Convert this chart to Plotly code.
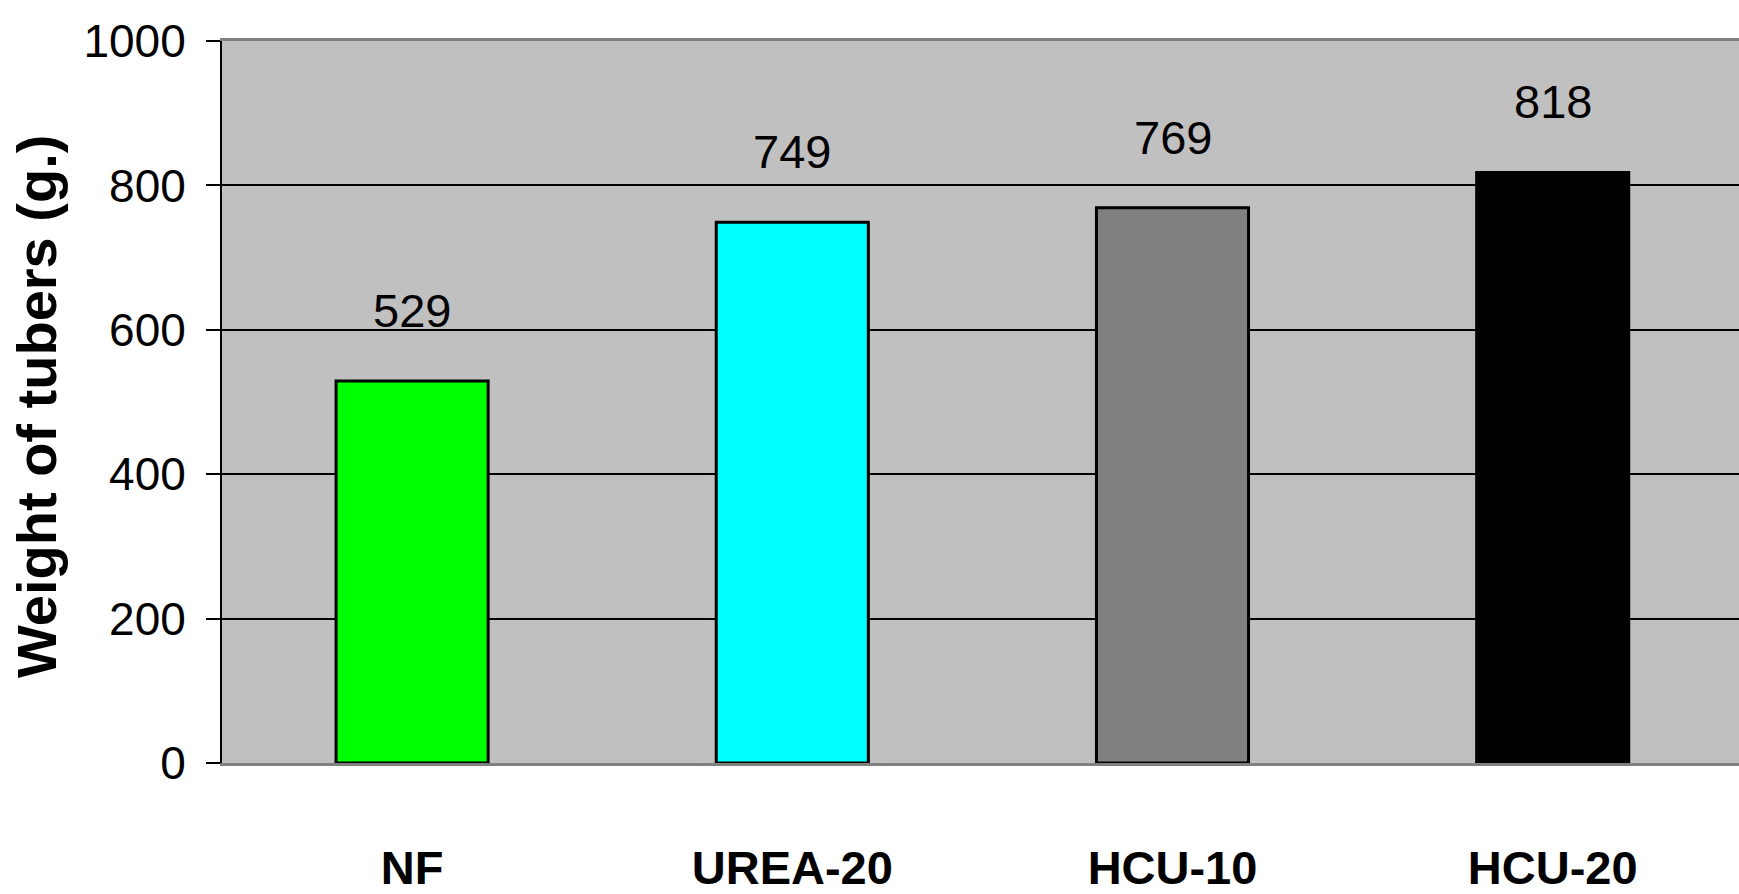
import plotly.graph_objects as go

# Tuber weight per fertiliser treatment
treatments = ["NF", "UREA-20", "HCU-10", "HCU-20"]
tuber_weight = [529, 749, 769, 818]
bar_colors = ["#00FF00", "#00FFFF", "#808080", "#000000"]
y_ticks = [0, 200, 400, 600, 800, 1000]

NARROW = "Liberation Sans Narrow, Arial Narrow, Liberation Sans, Arial, sans-serif"

fig = go.Figure()
fig.add_trace(go.Bar(
    x=list(range(len(treatments))),
    y=tuber_weight,
    width=0.4,
    marker=dict(color=bar_colors, line=dict(color="#000000", width=3)),
    hoverinfo="skip",
))

# value labels above each bar
for i, v in enumerate(tuber_weight):
    fig.add_annotation(
        x=i, y=v, xref="x", yref="y", text=str(v), showarrow=False,
        yanchor="bottom", yshift=42,
        font=dict(family=NARROW, size=47, color="#000000"),
    )

# rotated y-axis title
fig.add_annotation(
    x=0, y=0.5, xref="paper", yref="paper", text="<b>Weight of tubers (g.)</b>",
    textangle=-90, showarrow=False, xanchor="center", yanchor="middle",
    xshift=-186, yshift=-5,
    font=dict(family="Liberation Sans, Arial, sans-serif", size=56, color="#000000"),
)

fig.update_layout(
    width=1739, height=894,
    margin=dict(l=222, r=0, t=41, b=123),
    paper_bgcolor="#FFFFFF",
    plot_bgcolor="#C0C0C0",
    showlegend=False,
    xaxis=dict(
        range=[-0.5, 3.49],
        tickmode="array",
        tickvals=list(range(len(treatments))),
        ticktext=[f"<b>{t}</b>" for t in treatments],
        tickfont=dict(family=NARROW, size=47, color="#000000"),
        ticks="", ticklabelstandoff=62,
        showgrid=False, zeroline=False,
        showline=True, linecolor="#808080", linewidth=3, mirror=True,
    ),
    yaxis=dict(
        range=[0, 1000],
        tickmode="array",
        tickvals=y_ticks,
        tickfont=dict(family=NARROW, size=46, color="#000000"),
        ticks="outside", ticklen=14, tickwidth=2, tickcolor="#000000",
        ticklabelstandoff=11,
        showgrid=True, gridcolor="#000000", gridwidth=1.5,
        zeroline=False,
        showline=True, linecolor="#000000", linewidth=2,
    ),
)

fig.write_html("out.html")
